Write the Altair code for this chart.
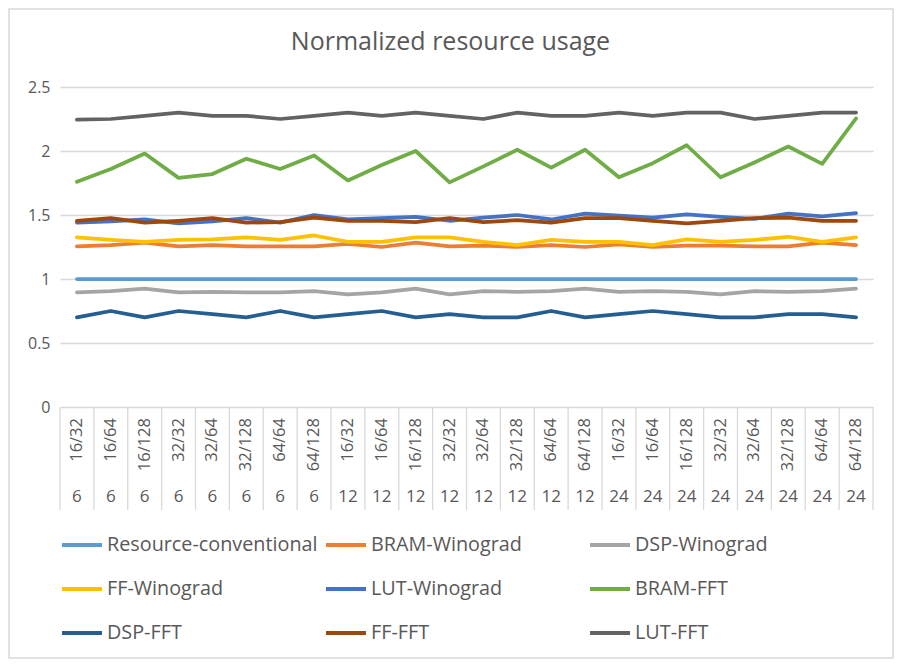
import altair as alt
import pandas as pd

chart_title = "Normalized resource usage"
inner_labels = ["16/32", "16/64", "16/128", "32/32", "32/64", "32/128", "64/64", "64/128"]
outer_labels = ["6", "12", "24"]

series_names = ["Resource-conventional", "BRAM-Winograd", "DSP-Winograd",
                "FF-Winograd", "LUT-Winograd", "BRAM-FFT",
                "DSP-FFT", "FF-FFT", "LUT-FFT"]
series_colors = ["#5B9BD5", "#ED7D31", "#A5A5A5",
                 "#FFC000", "#4472C4", "#70AD47",
                 "#255E91", "#9E480E", "#636363"]

resource_conventional = [1.0] * 24
bram_winograd = [1.255, 1.265, 1.285, 1.255, 1.265, 1.255, 1.255, 1.255,
                 1.275, 1.25, 1.285, 1.255, 1.26, 1.25, 1.265, 1.25,
                 1.27, 1.25, 1.26, 1.26, 1.255, 1.255, 1.285, 1.265]
dsp_winograd = [0.895, 0.905, 0.925, 0.895, 0.9, 0.895, 0.895, 0.905,
                0.88, 0.895, 0.925, 0.88, 0.905, 0.9, 0.905, 0.925,
                0.9, 0.905, 0.9, 0.88, 0.905, 0.9, 0.905, 0.925]
ff_winograd = [1.325, 1.305, 1.29, 1.305, 1.31, 1.325, 1.305, 1.34,
               1.29, 1.29, 1.325, 1.325, 1.29, 1.265, 1.305, 1.29,
               1.29, 1.265, 1.31, 1.29, 1.305, 1.33, 1.29, 1.325]
lut_winograd = [1.44, 1.45, 1.465, 1.435, 1.45, 1.475, 1.44, 1.50,
                1.465, 1.475, 1.485, 1.455, 1.48, 1.50, 1.465, 1.51,
                1.495, 1.48, 1.505, 1.485, 1.47, 1.51, 1.49, 1.515]
bram_fft = [1.76, 1.86, 1.98, 1.79, 1.82, 1.94, 1.86, 1.965,
            1.77, 1.89, 2.0, 1.755, 1.88, 2.01, 1.87, 2.01,
            1.795, 1.905, 2.045, 1.795, 1.91, 2.035, 1.9, 2.255]
dsp_fft = [0.70, 0.75, 0.70, 0.75, 0.725, 0.70, 0.75, 0.70,
           0.725, 0.75, 0.70, 0.725, 0.70, 0.70, 0.75, 0.70,
           0.725, 0.75, 0.725, 0.70, 0.70, 0.725, 0.725, 0.70]
ff_fft = [1.455, 1.475, 1.44, 1.455, 1.475, 1.44, 1.445, 1.48,
          1.455, 1.455, 1.445, 1.475, 1.445, 1.46, 1.44, 1.475,
          1.475, 1.455, 1.435, 1.455, 1.475, 1.48, 1.455, 1.455]
lut_fft = [2.245, 2.25, 2.275, 2.3, 2.275, 2.275, 2.25, 2.275,
           2.3, 2.275, 2.3, 2.275, 2.25, 2.3, 2.275, 2.275,
           2.3, 2.275, 2.3, 2.3, 2.25, 2.275, 2.3, 2.3]

series_values = [resource_conventional, bram_winograd, dsp_winograd,
                 ff_winograd, lut_winograd, bram_fft,
                 dsp_fft, ff_fft, lut_fft]

cats = []
for o in outer_labels:
    for i in inner_labels:
        cats.append((o, i))
cat_df = pd.DataFrame({
    "idx": list(range(len(cats))),
    "outer": [c[0] for c in cats],
    "inner": [c[1] for c in cats],
})
sep_df = pd.DataFrame({"idx": [k - 0.5 for k in range(len(cats) + 1)]})

rows = []
for k, (name, vals) in enumerate(zip(series_names, series_values)):
    for j, v in enumerate(vals):
        rows.append({"series": name, "order": k, "idx": j, "value": v})
line_df = pd.DataFrame(rows)

FONT = "Open Sans"
TXT = "#595959"
GRID = "#D9D9D9"
W, H = 813, 320

xscale = alt.Scale(domain=[-0.5, len(cats) - 0.5], nice=False, zero=False)
xenc = alt.X("idx:Q", scale=xscale, axis=None)

lines = alt.Chart(line_df).mark_line(strokeWidth=3.75, strokeCap="round", strokeJoin="round").encode(
    x=xenc,
    y=alt.Y("value:Q",
            scale=alt.Scale(domain=[0, 2.5], nice=False),
            axis=alt.Axis(values=[0, 0.5, 1, 1.5, 2, 2.5], format="~g", title=None,
                          domain=False, ticks=False, labelPadding=10,
                          labelFont=FONT, labelFontSize=16, labelColor=TXT,
                          gridColor=GRID, gridWidth=1.3)),
    color=alt.Color("series:N",
                    scale=alt.Scale(domain=series_names, range=series_colors),
                    legend=alt.Legend(title=None, orient="none", legendX=0, legendY=436,
                                      direction="horizontal",
                                      columns=3, columnPadding=0, gridAlign="all",
                                      rowPadding=12,
                                      symbolType="stroke", symbolSize=1600,
                                      symbolStrokeWidth=4, labelOffset=3,
                                      labelFont=FONT, labelFontSize=19.8, labelColor=TXT,
                                      labelLimit=400)),
)

seps = alt.Chart(sep_df).mark_rule(color=GRID, strokeWidth=1.3).encode(
    x=xenc,
    y=alt.value(H),
    y2=alt.value(H + 103),
)

inner_txt = alt.Chart(cat_df).mark_text(angle=270, align="right", baseline="middle",
                                         font=FONT, fontSize=16.5, color=TXT).encode(
    x=xenc,
    y=alt.value(H + 11),
    text="inner:N",
)

outer_txt = alt.Chart(cat_df).mark_text(align="center", baseline="middle",
                                         font=FONT, fontSize=17, color=TXT).encode(
    x=xenc,
    y=alt.value(H + 90),
    text="outer:N",
)

title_txt = alt.Chart(alt.Data(values=[{"t": chart_title}])).mark_text(
    align="center", baseline="middle", font=FONT, fontSize=25, color=TXT).encode(
    x=alt.value(390.5), y=alt.value(-45), text="t:N",
)

border = alt.Chart(alt.Data(values=[{"k": 0}])).mark_rect(
    fill="white", fillOpacity=0, stroke=GRID, strokeWidth=1.5).encode(
    x=alt.value(-51), x2=alt.value(W + 20),
    y=alt.value(-78), y2=alt.value(H + 251),
)

chart = alt.layer(border, seps, lines, inner_txt, outer_txt, title_txt).properties(
    width=W, height=H,
    padding={"left": 52, "top": 79, "right": 21, "bottom": 252},
    autosize=alt.AutoSizeParams(type="none"),
).configure_view(stroke=None)

chart.save("out.html", embed_options={"renderer": "svg", "actions": False})
